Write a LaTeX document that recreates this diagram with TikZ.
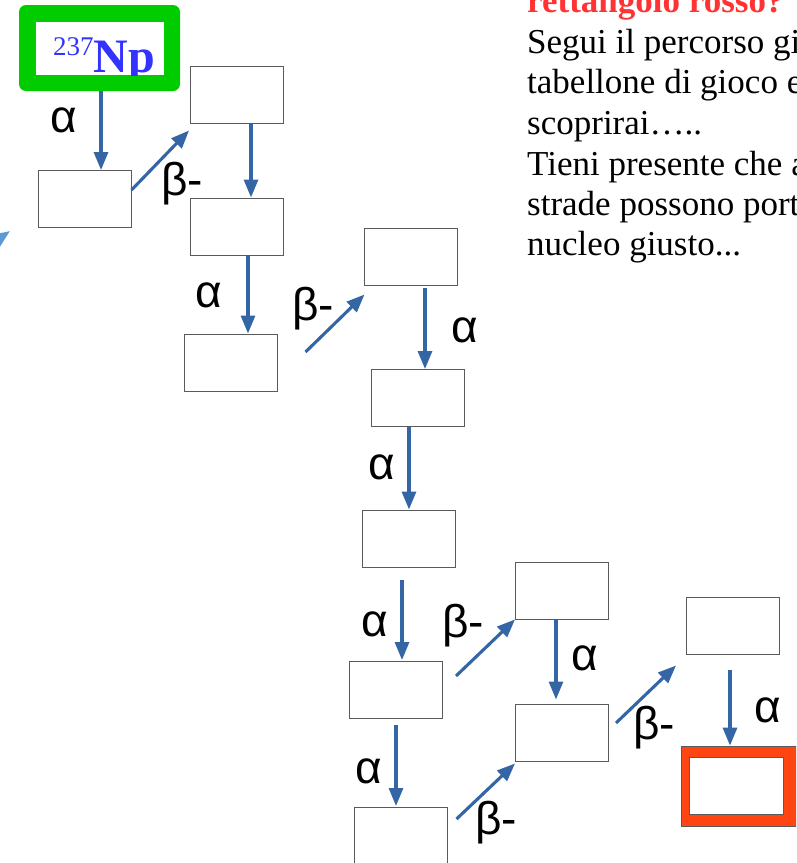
\documentclass[tikz,border=0pt]{standalone}
\usepackage{fontspec}
\setmainfont{Liberation Serif}
\newfontfamily\lsans{Liberation Sans}
\usetikzlibrary{arrows.meta,calc}
\definecolor{arrblue}{RGB}{52,101,164}
\definecolor{lightblue}{RGB}{91,155,213}
\definecolor{greenbox}{RGB}{0,204,0}
\definecolor{redbox}{RGB}{255,69,18}
\definecolor{textred}{RGB}{255,51,51}
\definecolor{npblue}{RGB}{51,51,255}
\definecolor{boxgray}{RGB}{90,90,90}
\begin{document}
\begin{tikzpicture}[x=1pt,y=-1pt,
  box/.style={draw=boxgray,line width=1pt,fill=white,minimum width=93pt,minimum height=57pt,inner sep=0pt},
  arr/.style={draw=arrblue,line width=3.1pt,-{Triangle[length=18pt,width=14pt]}},
  arrlight/.style={draw=lightblue,line width=3.1pt,-{Triangle[length=18pt,width=14pt]}},
  lab/.style={font=\lsans\fontsize{46}{46}\selectfont,inner sep=0pt},
  txt/.style={font=\fontsize{35}{40}\selectfont,anchor=base west,inner sep=0pt}]
\useasboundingbox (0,0) rectangle (796,863);
\clip (0,0) rectangle (796,863);
\fill[white] (0,0) rectangle (796,863);

% text block
\node[txt,text=textred,font=\fontsize{35}{40}\selectfont\bfseries] (t0) at (527,12) {rettangolo rosso?};
\node[txt] (t1) at (527,53) {Segui il percorso gi};
\node[txt] (t2) at (527,93) {tabellone di gioco e};
\node[txt] (t3) at (527,134) {scoprirai\dots..};
\node[txt] (t4) at (527,175) {Tieni presente che a};
\node[txt] (t5) at (527,215) {strade possono port};
\node[txt] (t6) at (527,255) {nucleo giusto...};

% start node
\node[fill=greenbox,rounded corners=7pt,minimum width=161pt,minimum height=86pt,inner sep=0pt] (g) at (99.5,48) {};
\node[fill=white,minimum width=128pt,minimum height=53pt,inner sep=0pt] (gin) at (100,48.5) {};
\begin{scope}
\clip (36,22) rectangle (164,75);
\node[anchor=base west,inner sep=0pt,text=npblue] (np) at (53,72)
  {\raisebox{17pt}{\fontsize{27}{27}\selectfont 237}\fontsize{48}{48}\selectfont\bfseries Np};
\end{scope}

% boxes
\node[box] (b1) at (84.5,199) {};
\node[box] (b2) at (237,94.5) {};
\node[box] (b3) at (237,226.5) {};
\node[box] (b4) at (230.5,362.5) {};
\node[box] (b5) at (410.5,256.5) {};
\node[box] (b6) at (417.5,398) {};
\node[box] (b7) at (408.5,538.5) {};
\node[box] (b8) at (396,690) {};
\node[box] (b9) at (400.5,836) {};
\node[box] (b10) at (562,590.5) {};
\node[box] (b11) at (562,732.5) {};
\node[box] (b12) at (733,625.5) {};
\node[fill=redbox,draw=boxgray,line width=0.8pt,minimum width=124pt,minimum height=80pt,inner sep=0pt] (r) at (743,786) {};
\node[box,minimum width=94pt] (rin) at (736,785.5) {};

% arrows
\draw[arr] ([shift={(1.5,0)}]g.south) -- ([shift={(16.5,0)}]b1.north);
\draw[arr] ([shift={(0,-9)}]b1.east) -- ([shift={(-1,7)}]b2.south west);
\draw[arr] ([shift={(14,0)}]b2.south) -- ([shift={(14,0)}]b3.north);
\draw[arr] ([shift={(11,0)}]b3.south) -- ([shift={(17.5,0)}]b4.north);
\draw[arr] ([shift={(28,-10.5)}]b4.east) -- ([shift={(1,9)}]b5.south west);
\draw[arr] ([shift={(14.5,2)}]b5.south) -- ([shift={(7.5,0)}]b6.north);
\draw[arr] ([shift={(-8.5,0)}]b6.south) -- ([shift={(0.5,0)}]b7.north);
\draw[arr] ([shift={(-6.5,12)}]b7.south) -- ([shift={(6,-1)}]b8.north);
\draw[arr] ([shift={(13,15)}]b8.north east) -- (b10.south west);
\draw[arr] ([shift={(-6,0)}]b10.south) -- ([shift={(-6,-4)}]b11.north);
\draw[arr] ([shift={(0,6)}]b8.south) -- ([shift={(-4.5,-1)}]b9.north);
\draw[arr] ([shift={(9,12)}]b9.north east) -- ([shift={(0,2)}]b11.south west);
\draw[arr] ([shift={(7,-9.5)}]b11.east) -- ([shift={(-10,11)}]b12.south west);
\draw[arr] ([shift={(-3,15)}]b12.south) -- ([shift={(-13,0)}]r.north);

% partial arrow at left edge
\coordinate (lf) at (-40,266);
\coordinate (lt) at (10,231);
\draw[arrlight] (lf) -- (lt);

% labels
\node[lab] (l1) at (64,120) {α};
\node[lab] (l2) at (182,184) {β-};
\node[lab] (l3) at (209,295) {α};
\node[lab] (l4) at (313,309) {β-};
\node[lab] (l5) at (465,330) {α};
\node[lab] (l6) at (382,467) {α};
\node[lab] (l7) at (375,624) {α};
\node[lab] (l8) at (463,626) {β-};
\node[lab] (l9) at (585,658) {α};
\node[lab] (l10) at (369,771) {α};
\node[lab] (l11) at (496,823) {β-};
\node[lab] (l12) at (654,728) {β-};
\node[lab] (l13) at (768,710) {α};
\end{tikzpicture}
\end{document}
